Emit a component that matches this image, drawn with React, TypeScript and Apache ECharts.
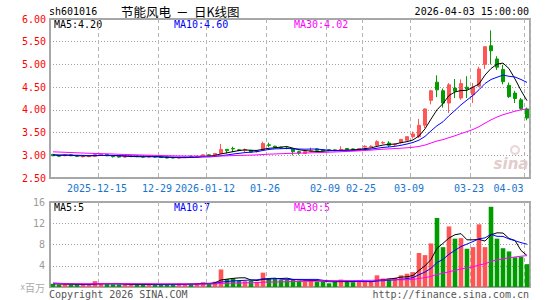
import React, { useEffect, useRef } from 'react';
import * as echarts from 'echarts';

// ---------------- data ----------------
const dates = [
  '2025-12-03', '2025-12-04', '2025-12-05', '2025-12-08', '2025-12-09', '2025-12-10', '2025-12-11', '2025-12-12',
  '2025-12-15', '2025-12-16', '2025-12-17', '2025-12-18', '2025-12-19',
  '2025-12-22', '2025-12-23', '2025-12-24', '2025-12-25', '2025-12-26',
  '2025-12-29', '2025-12-30', '2025-12-31',
  '2026-01-05', '2026-01-06', '2026-01-07', '2026-01-08', '2026-01-09',
  '2026-01-12', '2026-01-13', '2026-01-14', '2026-01-15', '2026-01-16',
  '2026-01-19', '2026-01-20', '2026-01-21', '2026-01-22', '2026-01-23',
  '2026-01-26', '2026-01-27', '2026-01-28', '2026-01-29', '2026-01-30',
  '2026-02-02', '2026-02-03', '2026-02-04', '2026-02-05', '2026-02-06',
  '2026-02-09', '2026-02-10', '2026-02-11', '2026-02-12', '2026-02-13',
  '2026-02-24', '2026-02-25', '2026-02-26', '2026-02-27',
  '2026-03-02', '2026-03-03', '2026-03-04', '2026-03-05', '2026-03-06',
  '2026-03-09', '2026-03-10', '2026-03-11', '2026-03-12', '2026-03-13',
  '2026-03-16', '2026-03-17', '2026-03-18', '2026-03-19', '2026-03-20',
  '2026-03-23', '2026-03-24', '2026-03-25', '2026-03-26', '2026-03-27',
  '2026-03-30', '2026-03-31', '2026-04-01', '2026-04-02', '2026-04-03',
];

const opens = [
  3.02, 2.99, 2.99, 3.01, 2.99, 2.97, 2.97, 2.98, 3.00, 3.02,
  2.98, 2.98, 2.96, 2.97, 2.98, 2.97, 2.96, 2.97, 2.96, 2.96,
  2.95, 2.94, 2.95, 2.98, 2.97, 2.98, 3.01, 2.99, 3.04, 3.13,
  3.15, 3.12, 3.11, 3.11, 3.08, 3.12, 3.23, 3.20, 3.17, 3.16,
  3.15, 3.08, 3.04, 3.09, 3.14, 3.12, 3.12, 3.12, 3.12, 3.15,
  3.14, 3.12, 3.18, 3.19, 3.22, 3.27, 3.27, 3.23, 3.28, 3.33,
  3.41, 3.41, 3.66, 4.21, 4.61, 4.42, 4.15, 4.48, 4.26, 4.50,
  4.33, 4.52, 5.00, 5.41, 5.12, 4.89, 4.54, 4.37, 4.22, 4.02,
];
const closes = [
  2.99, 2.98, 3.01, 2.99, 2.98, 2.98, 2.98, 3.02, 3.02, 2.99,
  2.97, 2.96, 2.97, 2.98, 2.97, 2.96, 2.97, 2.96, 2.95, 2.94,
  2.94, 2.95, 2.96, 2.97, 2.98, 3.01, 2.99, 3.04, 3.13, 3.10,
  3.14, 3.11, 3.12, 3.07, 3.10, 3.26, 3.22, 3.17, 3.16, 3.15,
  3.08, 3.05, 3.08, 3.10, 3.11, 3.10, 3.11, 3.10, 3.13, 3.13,
  3.13, 3.15, 3.20, 3.20, 3.30, 3.28, 3.22, 3.24, 3.35, 3.41,
  3.47, 3.66, 4.02, 4.42, 4.44, 4.15, 4.55, 4.41, 4.58, 4.46,
  4.50, 4.90, 5.39, 5.30, 4.94, 4.62, 4.29, 4.25, 4.03, 3.82,
];
const lows = [
  2.98, 2.97, 2.98, 2.98, 2.96, 2.95, 2.96, 2.97, 2.99, 2.98,
  2.95, 2.95, 2.95, 2.96, 2.96, 2.95, 2.95, 2.95, 2.94, 2.93,
  2.93, 2.93, 2.94, 2.96, 2.96, 2.97, 2.98, 2.98, 3.03, 3.04,
  3.07, 3.09, 3.07, 3.06, 3.06, 3.11, 3.18, 3.16, 3.14, 3.13,
  3.00, 3.01, 3.03, 3.07, 3.10, 3.09, 3.09, 3.09, 3.10, 3.12,
  3.12, 3.11, 3.17, 3.18, 3.21, 3.25, 3.18, 3.21, 3.26, 3.32,
  3.37, 3.38, 3.60, 4.12, 4.28, 4.05, 3.93, 4.26, 4.22, 4.26,
  4.15, 4.50, 4.90, 5.00, 4.88, 4.56, 4.26, 4.15, 4.00, 3.77,
];
const highs = [
  3.03, 3.00, 3.02, 3.02, 2.99, 2.99, 2.99, 3.03, 3.03, 3.02,
  2.99, 2.98, 2.98, 2.99, 2.99, 2.98, 2.98, 2.98, 2.97, 2.97,
  2.95, 2.96, 2.96, 2.99, 2.99, 3.02, 3.02, 3.05, 3.25, 3.14,
  3.19, 3.13, 3.15, 3.12, 3.11, 3.30, 3.28, 3.21, 3.19, 3.18,
  3.16, 3.10, 3.09, 3.17, 3.15, 3.13, 3.13, 3.13, 3.20, 3.16,
  3.15, 3.16, 3.22, 3.22, 3.33, 3.31, 3.31, 3.26, 3.36, 3.42,
  3.52, 3.80, 4.03, 4.44, 4.76, 4.47, 4.59, 4.68, 4.67, 4.74,
  4.59, 4.95, 5.39, 5.75, 5.18, 4.99, 4.60, 4.42, 4.26, 4.05,
];
// volume, millions of shares
const volumes = [
  0.60, 0.45, 0.50, 0.50, 0.45, 0.50, 0.45, 1.10, 0.70, 0.55,
  0.50, 0.50, 0.45, 0.45, 0.50, 0.45, 0.50, 0.50, 0.50, 0.55,
  0.50, 0.60, 0.55, 0.60, 0.70, 0.90, 0.70, 1.00, 3.30, 1.50,
  1.60, 1.20, 1.10, 1.20, 1.00, 2.70, 1.50, 1.50, 1.30, 1.30,
  1.50, 1.20, 1.00, 1.30, 1.00, 1.00, 0.70, 1.00, 1.40, 1.00,
  0.90, 1.00, 1.00, 1.10, 2.20, 1.60, 1.60, 1.70, 2.20, 2.50,
  2.80, 6.40, 6.00, 8.20, 13.0, 7.50, 11.4, 9.10, 9.20, 7.20,
  7.50, 11.8, 7.50, 15.1, 9.10, 7.30, 6.70, 5.60, 5.70, 4.30,
];
// sessions before the first visible day (only feed the moving averages)
const priorCloses = [
  3.16, 3.15, 3.17, 3.14, 3.13, 3.15, 3.14, 3.12, 3.13, 3.11,
  3.12, 3.10, 3.11, 3.09, 3.08, 3.07, 3.08, 3.06, 3.05, 3.04,
  3.02, 3.01, 3.02, 3.00, 3.01, 3.02, 3.00, 3.01, 3.02,
];
const priorVolumes = [
  0.55, 0.60, 0.50, 0.55, 0.60, 0.50, 0.60, 0.55, 0.50, 0.60,
  0.55, 0.60, 0.50, 0.55, 0.60, 0.55, 0.50, 0.60, 0.55, 0.60,
  0.90, 1.00, 0.80, 0.90, 0.70, 0.75, 0.60, 0.55, 0.60,
];

const tickDates = ['2025-12-15', '2025-12-29', '2026-01-12', '2026-01-26', '2026-02-09', '2026-02-25', '2026-03-09', '2026-03-23', '2026-04-03'];
const tickTexts = ['2025-12-15', '12-29', '2026-01-12', '01-26', '02-09', '02-25', '03-09', '03-23', '04-03'];
const volLegendTexts = ['MA5:5', 'MA10:7', 'MA30:5'];
const maPeriods = [5, 10, 30];
const maColors = ['#000000', '#0000ff', '#ff00ff'];

// ---------------- helpers ----------------
function movingAverage(prior: number[], values: number[], n: number): number[] {
  const all = prior.concat(values);
  const off = prior.length;
  return values.map((_, i) => {
    let s = 0;
    for (let k = 0; k < n; k++) s += all[off + i - k];
    return +(s / n).toFixed(4);
  });
}

const MONO = '"DejaVu Sans Mono", "Liberation Mono", monospace';
const CJK = '"Noto Sans CJK SC"';
const UP = '#ff5555';
const DOWN = '#009c00';
const BORDER = '#a8a8a8';

function buildOption(): any {
  const tickSet = new Set(tickDates);
  const isTick = (_i: number, v: string) => tickSet.has(v);
  const candle = dates.map((_, i) => [opens[i], closes[i], lows[i], highs[i]]);
  const vol = volumes.map((v, i) => ({ value: v, itemStyle: { color: closes[i] >= opens[i] ? UP : DOWN } }));
  const priceMA = maPeriods.map((n) => movingAverage(priorCloses, closes, n));
  const volMA = maPeriods.map((n) => movingAverage(priorVolumes, volumes, n));
  const last = closes.length - 1;
  const priceLegend = maPeriods.map((n, k) => `MA${n}:${priceMA[k][last].toFixed(2)}`);

  const vSplit = { show: true, interval: isTick, lineStyle: { color: '#b4b4b4', type: [4, 3], width: 1 } };
  const hSplit = { show: true, lineStyle: { color: '#a0a0a0', type: [1, 2], width: 1 } };

  const mid = { verticalAlign: 'middle', textVerticalAlign: 'middle' };
  const legendX = [54, 174, 294];
  const graphic: any[] = [
    { type: 'text', x: 49, y: 11.5, style: { text: 'sh601016', fill: '#000', font: `10px ${MONO}`, ...mid } },
    { type: 'text', x: 121, y: 11, style: { text: '节能风电', fill: '#000', font: `12.5px ${CJK}`, ...mid } },
    { type: 'text', x: 176, y: 11, style: { text: '－', fill: '#000', font: `12.5px ${CJK}`, ...mid } },
    { type: 'text', x: 194, y: 11, style: { text: '日K线图', fill: '#000', font: `12.5px ${CJK}`, ...mid } },
    { type: 'text', x: 529, y: 11.5, style: { text: '2026-04-03 15:00:00', fill: '#000', font: `10px ${MONO}`, align: 'right', textAlign: 'right', ...mid } },
    { type: 'text', x: 49, y: 294, style: { text: 'Copyright 2026 SINA.COM', fill: '#555', font: `10px ${MONO}`, ...mid } },
    { type: 'text', x: 529, y: 294, style: { text: 'http://finance.sina.com.cn', fill: '#555', font: `10px ${MONO}`, align: 'right', textAlign: 'right', ...mid } },
    { type: 'ring', shape: { cx: 515, cy: 150, r: 5, r0: 3 }, style: { fill: '#ecd6d6' }, z: 1 },
    { type: 'text', x: 511, y: 164, style: { text: 'sina', fill: '#e2cccc', font: 'italic bold 15px "DejaVu Sans"', align: 'center', textAlign: 'center', ...mid }, z: 1 },
  ];
  priceLegend.forEach((t, k) => graphic.push({ type: 'text', x: legendX[k], y: 24.5, style: { text: t, fill: maColors[k], font: `10px ${MONO}`, ...mid } }));
  volLegendTexts.forEach((t, k) => graphic.push({ type: 'text', x: legendX[k], y: 207, style: { text: t, fill: maColors[k], font: `10px ${MONO}`, ...mid } }));

  const lineSeries = (data: number[], color: string, xi: number) => ({
    type: 'line', xAxisIndex: xi, yAxisIndex: xi, data, symbol: 'none', showSymbol: false, silent: true,
    lineStyle: { width: 1, color }, itemStyle: { color }, z: 3,
  });

  return {
    animation: false,
    backgroundColor: '#ffffff',
    grid: [
      { left: 50, right: 15, top: 19, height: 159, show: true, borderColor: BORDER, borderWidth: 2 },
      { left: 50, right: 15, top: 202, height: 85, show: true, borderColor: BORDER, borderWidth: 2 },
    ],
    xAxis: [
      {
        type: 'category', gridIndex: 0, data: dates, boundaryGap: true,
        axisLine: { show: false }, axisTick: { show: false },
        axisLabel: {
          interval: isTick, margin: 5, color: '#1874cd', fontFamily: MONO, fontSize: 10, hideOverlap: false,
          formatter: (v: string) => {
            const k = tickDates.indexOf(v);
            return k === tickDates.length - 1 ? `{r|${tickTexts[k]}}` : `{a|${tickTexts[k]}}`;
          },
          rich: {
            a: { color: '#1874cd', fontFamily: MONO, fontSize: 10, padding: [0, 8, 0, 0] },
            r: { color: '#1874cd', fontFamily: MONO, fontSize: 10, padding: [0, 37, 0, 0] },
          },
        },
        splitLine: vSplit,
      },
      {
        type: 'category', gridIndex: 1, data: dates, boundaryGap: true,
        axisLine: { show: false }, axisTick: { show: false }, axisLabel: { show: false, interval: isTick },
        splitLine: vSplit,
      },
    ],
    yAxis: [
      {
        type: 'value', gridIndex: 0, min: 2.5, max: 6, interval: 0.5,
        axisLine: { show: false }, axisTick: { show: false },
        axisLabel: { color: '#ff0000', fontFamily: MONO, fontSize: 10, margin: 4, formatter: (v: number) => v.toFixed(2) },
        splitLine: hSplit,
      },
      {
        type: 'value', gridIndex: 1, min: 0, max: 16, interval: 4,
        axisLine: { show: false }, axisTick: { show: false },
        axisLabel: {
          color: '#9a9a9a', fontFamily: MONO, fontSize: 10, margin: 5,
          formatter: (v: number) => (v === 0 ? '{s|x}{b|百万}' : String(v)),
          rich: {
            s: { color: '#aaaaaa', fontFamily: MONO, fontSize: 8 },
            b: { color: '#aaaaaa', fontFamily: CJK, fontSize: 10 },
          },
        },
        splitLine: hSplit,
      },
    ],
    series: [
      {
        type: 'candlestick', xAxisIndex: 0, yAxisIndex: 0, data: candle, barWidth: 3.6, z: 2,
        itemStyle: { color: UP, color0: DOWN, borderColor: UP, borderColor0: DOWN, borderWidth: 1 },
      },
      ...priceMA.map((d, k) => lineSeries(d, maColors[k], 0)),
      { type: 'bar', xAxisIndex: 1, yAxisIndex: 1, data: vol, barWidth: 4.6, z: 2 },
      ...volMA.map((d, k) => lineSeries(d, maColors[k], 1)),
    ],
    graphic,
  };
}

export default function App() {
  const ref = useRef<HTMLDivElement>(null);
  useEffect(() => {
    if (!ref.current) return;
    const chart = echarts.init(ref.current, null, { renderer: 'svg' });
    chart.setOption(buildOption());
    return () => chart.dispose();
  }, []);
  return <div ref={ref} style={{ position: 'fixed', left: 0, top: 0, width: 545, height: 300, background: '#fff' }} />;
}
